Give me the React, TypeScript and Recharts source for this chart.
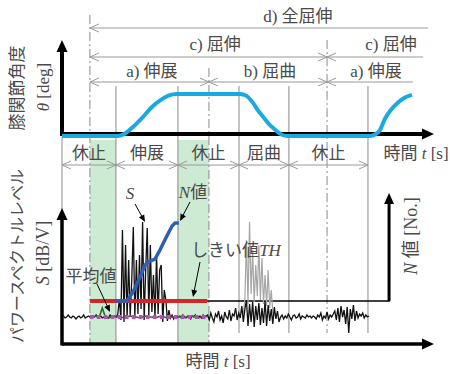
import React from 'react';
import {
  ComposedChart,
  Line,
  XAxis,
  YAxis,
  ReferenceLine,
  ReferenceArea,
  ReferenceDot,
} from 'recharts';

// ---- values ----
// time axis: t = 0 at the origin, arrow tip at 12 s
const phaseEdges = [0, 1.74, 3.74, 5.71, 7.32, 9.87];
const phaseNames = ['休止', '伸展', '休止', '屈曲', '休止'];
const restZones = [
  [0.9, 1.74],
  [3.74, 4.74],
];
const cycleMarks = [0.9, 4.74, 8.55];

const motionLabels = ['d) 全屈伸', 'c) 屈伸', 'c) 屈伸', 'a) 伸展', 'b) 屈曲', 'a) 伸展'];
const motionFrom = [0.9, 0.9, 8.55, 0.9, 4.74, 8.55];
const motionTo = [11.81, 8.55, 11.65, 4.74, 8.55, 11.32];
const motionLabelT = [7.61, 4.94, 10.61, 2.9, 6.71, 10.13];
const motionRow = ['d', 'c', 'c', 'a', 'a', 'a'];
const motionOpenEnd = [true, false, true, false, false, true];

// knee angle [deg]
const angleT = [0, 1.8, 2.0, 2.3, 2.6, 2.9, 3.2, 3.45, 3.7, 5.74, 5.95, 6.15, 6.32, 6.5, 6.7, 6.87, 7.05, 7.26, 9.94, 10.1, 10.25, 10.42, 10.6, 10.84, 11.05, 11.29];
const angleDeg = [0, 0, 4, 20, 40, 62, 78, 87, 90, 90, 86, 72, 55, 40, 24, 14, 4, 0, 0, 3, 12, 37, 55, 72, 82, 88];

// power spectrum level S, sampled every 0.05 s
const sampleDt = 0.05;
const sBlack = [
  27, 28, 26, 27, 29, 27, 26, 28, 27, 25, 27, 28, 26, 27, 29, 26, 27, 28, 27, 26, 28, 27, 29, 26, 27, 28, 26, 27, 28, 27, 26, 29, 27, 26, 28,
  27, 30, 45, 24, 114, 22, 99, 25, 84, 28, 64, 117, 26, 84, 30, 89, 35, 122, 24, 74, 116, 28, 99, 32, 69, 26, 89, 30, 74, 79, 22, 54, 44, 23, 34, 26, 29, 25, 28, 27,
  27, 28, 26, 29, 27, 26, 28, 27, 25, 28, 27, 29, 26, 27, 28, 26, 29, 27, 28,
  29, 24, 31, 26, 22, 30, 27, 33, 24, 28, 21, 32, 27, 25, 34, 23, 30, 28, 36, 24, 31, 26, 38, 22, 35,
  44, 18, 40, 22, 42, 17, 38, 24, 41, 19, 36, 21, 43, 18, 39, 23, 35, 20, 37, 25, 33, 22,
  27, 29, 25, 28, 26, 30, 27, 24, 28, 29, 26, 27, 30, 25, 28, 27, 26, 29, 27, 28,
  26, 28, 27, 25, 29, 27, 31, 24, 28, 26, 32, 25, 29, 27, 30,
  33, 24, 36, 22, 38, 27, 34, 20, 37, 11, 35, 25, 39, 23, 33, 26, 30,
  28, 31, 26, 29, 27, 28,
];
const sGrayStart = 5.85;
const sGray = [30, 45, 104, 40, 122, 50, 94, 42, 79, 48, 99, 44, 86, 40, 69, 38, 74, 36, 54, 32, 28];

const avgStart = 0.9;
const avgDt = 0.1;
const sAvgTrace = [27, 27, 28, 27, 36, 27, 26, 27, 28, 27, 27, 26, 27, 28, 27, 27, 26, 27, 28, 27, 27, 26, 27, 28, 27, 26, 27, 27, 28, 27, 26, 27, 27, 28, 27, 26, 27, 28, 27];
const sMean = 27;
const threshold = 43;
const refSpan = [0.9, 4.68];

// N value [No.]
const nT = [1.74, 2.1, 2.29, 2.52, 2.68, 2.77, 3.0, 3.16, 3.35, 3.55, 3.65, 3.77];
const nCount = [0, 0, 3, 8, 12, 13, 14, 17, 21, 25, 26, 26];
const nAxisT = 10.55;
const nAxisMax = 36;

// ---- layout ----
const W = 450;
const H = 374;
const ORIGIN_PX = 62;
const PX_PER_S = 31;
const T_MIN = -ORIGIN_PX / PX_PER_S;
const T_MAX = (W - ORIGIN_PX) / PX_PER_S;
const ANG0_PX = 136;
const ANG90_PX = 94;
const S0_PX = 344;
const N0_PX = 301;
const N_PX = 3;

// annotation x given in page pixels -> time units
const px = (x: number) => (x - ORIGIN_PX) / PX_PER_S;

const angK = (ANG0_PX - ANG90_PX) / 90;
const angDomain = [-(H - ANG0_PX) / angK, ANG0_PX / angK];
const sDomain = [-(H - S0_PX), S0_PX];
const nDomain = [-(H - N0_PX) / N_PX, N0_PX / N_PX];

const rowY: Record<string, number> = { d: 28, c: 57, a: 82 };
const rowLabelY: Record<string, number> = { d: 16, c: 44, a: 71 };

const FONT = "'Liberation Serif', 'Noto Sans CJK JP', serif";
const INK = '#4a4a4a';
const GRID = '#8a8a8a';
const DIM = '#9a9a9a';

const angleData = angleT.map((t, i) => ({ t, v: angleDeg[i] }));
const blackData = sBlack.map((v, i) => ({ t: +(i * sampleDt).toFixed(2), v }));
const grayData = sGray.map((v, i) => ({ t: +(sGrayStart + i * sampleDt).toFixed(2), v }));
const avgTraceData = sAvgTrace.map((v, i) => ({ t: +(avgStart + i * avgDt).toFixed(2), v }));
const meanData = refSpan.map((t) => ({ t, v: sMean }));
const thData = refSpan.map((t) => ({ t, v: threshold }));
const nData = nT.map((t, i) => ({ t, v: nCount[i] }));

type Head = 'none' | 'open' | 'solid';

const arrowShape =
  (color: string, width: number, start: Head, end: Head, headLen = 12, headHalf = 5) =>
  (p: any) => {
    const { x1, y1, x2, y2 } = p;
    const dx = x2 - x1;
    const dy = y2 - y1;
    const len = Math.hypot(dx, dy) || 1;
    const ux = dx / len;
    const uy = dy / len;
    const nx = -uy;
    const ny = ux;
    const head = (tx: number, ty: number, bx: number, by: number, kind: Head) => {
      const cx = tx + bx * headLen;
      const cy = ty + by * headLen;
      const pts = `${cx + nx * headHalf},${cy + ny * headHalf} ${tx},${ty} ${cx - nx * headHalf},${cy - ny * headHalf}`;
      return kind === 'solid' ? (
        <polygon points={pts} fill={color} />
      ) : (
        <polyline points={pts} fill="none" stroke={color} strokeWidth={1} />
      );
    };
    let sx = x1;
    let sy = y1;
    let ex = x2;
    let ey = y2;
    if (start === 'solid') {
      sx += ux * headLen * 0.8;
      sy += uy * headLen * 0.8;
    }
    if (end === 'solid') {
      ex -= ux * headLen * 0.8;
      ey -= uy * headLen * 0.8;
    }
    return (
      <g>
        <line x1={sx} y1={sy} x2={ex} y2={ey} stroke={color} strokeWidth={width} />
        {start !== 'none' && head(x1, y1, ux, uy, start)}
        {end !== 'none' && head(x2, y2, -ux, -uy, end)}
      </g>
    );
  };

const seg = (key: string, yId: string, a: number[], b: number[], shape: any) => (
  <ReferenceLine
    key={key}
    xAxisId="t"
    yAxisId={yId}
    segment={[
      { x: a[0], y: a[1] },
      { x: b[0], y: b[1] },
    ]}
    ifOverflow="visible"
    shape={shape}
  />
);

const vline = (key: string, t: number, top: number, bottom: number, dash?: string) => (
  <ReferenceLine
    key={key}
    xAxisId="t"
    yAxisId="lay"
    segment={[
      { x: t, y: top },
      { x: t, y: bottom },
    ]}
    ifOverflow="visible"
    stroke={GRID}
    strokeWidth={1}
    strokeDasharray={dash}
  />
);

const label = (key: string, t: number, y: number, content: React.ReactNode, size = 17, rotate = false) => (
  <ReferenceDot
    key={key}
    xAxisId="t"
    yAxisId="lay"
    x={t}
    y={y}
    r={0}
    ifOverflow="visible"
    shape={(p: any) => (
      <text
        x={p.cx}
        y={p.cy}
        textAnchor="middle"
        dominantBaseline="central"
        fontSize={size}
        fontFamily={FONT}
        fill={INK}
        transform={rotate ? `rotate(-90 ${p.cx} ${p.cy})` : undefined}
      >
        {content}
      </text>
    )}
  />
);

const it = (s: string) => <tspan fontStyle="italic">{s}</tspan>;

const dashDotTop = [15, 68, 40];
const dashDotBottom = [344, 344, 333];
const callout = arrowShape('#000', 1, 'none', 'solid', 7, 3);

export default function App() {
  return (
    <div style={{ position: 'absolute', left: 0, top: 0, width: W, height: H, background: '#fff' }}>
      <ComposedChart width={W} height={H} margin={{ top: 0, right: 0, bottom: 0, left: 0 }}>
        <XAxis xAxisId="t" type="number" dataKey="t" domain={[T_MIN, T_MAX]} allowDataOverflow hide />
        <YAxis yAxisId="lay" type="number" domain={[0, H]} reversed allowDataOverflow hide />
        <YAxis yAxisId="ang" type="number" domain={angDomain} allowDataOverflow hide />
        <YAxis yAxisId="s" type="number" domain={sDomain} allowDataOverflow hide />
        <YAxis yAxisId="n" type="number" domain={nDomain} allowDataOverflow hide />

        {restZones.map(([a, b], i) => (
          <ReferenceArea
            key={`rest${i}`}
            xAxisId="t"
            yAxisId="lay"
            x1={a}
            x2={b}
            y1={140}
            y2={S0_PX}
            ifOverflow="visible"
            fill="#cdead3"
            fillOpacity={1}
            stroke="none"
          />
        ))}

        {cycleMarks.map((t, i) => vline(`cyc${i}`, t, dashDotTop[i], dashDotBottom[i], '9 3 2 3'))}
        {phaseEdges.slice(1).map((t, i) => vline(`ph${i}`, t, 86, i < 2 ? 344 : 333))}
        {vline('origin', 0, 137, 210)}

        {/* motion ranges */}
        {motionLabels.map((_, i) =>
          seg(
            `mot${i}`,
            'lay',
            [motionFrom[i], rowY[motionRow[i]]],
            [motionTo[i], rowY[motionRow[i]]],
            arrowShape(DIM, 1.2, 'open', motionOpenEnd[i] ? 'none' : 'open', 9, 4),
          ),
        )}
        {motionLabels.map((m, i) => label(`motl${i}`, motionLabelT[i], rowLabelY[motionRow[i]], m))}

        {/* phases */}
        {phaseNames.map((_, i) =>
          seg(`phs${i}`, 'lay', [phaseEdges[i], 165], [phaseEdges[i + 1], 165], arrowShape(DIM, 1.2, 'open', 'open', 9, 4)),
        )}
        {phaseNames.map((p, i) => label(`phl${i}`, (phaseEdges[i] + phaseEdges[i + 1]) / 2, 153, p))}

        {/* axes */}
        {seg('topX', 'lay', [0, 134], [12, 134], arrowShape('#000', 4, 'none', 'solid', 12, 5.5))}
        {seg('topY', 'lay', [0, 136], [0, 40], arrowShape('#000', 4, 'none', 'solid', 12, 5.5))}
        {seg('botX', 's', [0, 0], [12, 0], arrowShape('#000', 3.5, 'none', 'solid', 12, 5.5))}
        {seg('botY', 's', [0, -1.5], [0, 136], arrowShape('#000', 3.5, 'none', 'solid', 12, 5.5))}
        {seg('nY', 'n', [nAxisT, 0], [nAxisT, nAxisMax], arrowShape('#000', 3, 'none', 'solid', 11, 5))}
        {seg('nX', 'n', [refSpan[1], 0], [nAxisT + 0.03, 0], arrowShape('#000', 1.3, 'none', 'none'))}

        <Line xAxisId="t" yAxisId="s" data={grayData} dataKey="v" type="linear" stroke="#a6a6a6" strokeWidth={1.2} dot={false} activeDot={false} isAnimationActive={false} />
        <Line xAxisId="t" yAxisId="s" data={blackData} dataKey="v" type="linear" stroke="#111" strokeWidth={1.3} dot={false} activeDot={false} isAnimationActive={false} />
        <Line xAxisId="t" yAxisId="s" data={avgTraceData} dataKey="v" type="linear" stroke="#2e6a2e" strokeWidth={1.6} dot={false} activeDot={false} isAnimationActive={false} />
        <Line xAxisId="t" yAxisId="s" data={meanData} dataKey="v" type="linear" stroke="#c048c0" strokeWidth={4} strokeDasharray="3.5 3.5" dot={false} activeDot={false} isAnimationActive={false} />
        <Line xAxisId="t" yAxisId="s" data={thData} dataKey="v" type="linear" stroke="#d42626" strokeWidth={4} dot={false} activeDot={false} isAnimationActive={false} />
        <Line xAxisId="t" yAxisId="n" data={nData} dataKey="v" type="linear" stroke="#2f5db6" strokeWidth={3.5} dot={false} activeDot={false} isAnimationActive={false} />
        <Line xAxisId="t" yAxisId="ang" data={angleData} dataKey="v" type="monotone" stroke="#1aaae2" strokeWidth={4} dot={false} activeDot={false} isAnimationActive={false} />

        {/* callout arrows */}
        {seg('aS', 'lay', [px(135), 204], [px(145), 222], callout)}
        {seg('aN', 'lay', [px(190), 202], [px(180), 221], callout)}
        {seg('aTH', 'lay', [px(200), 262], [px(193), 297], callout)}
        {seg('aM', 'lay', [px(97), 284], [px(110), 312], callout)}

        {/* texts */}
        {label('yl1', px(17), 88, '膝関節角度', 17, true)}
        {label('yl2', px(43), 87, <>{it('θ')} [deg]</>, 17, true)}
        {label('yl3', px(17), 256, 'パワースペクトルレベル', 16, true)}
        {label('yl4', px(43), 253, <>{it('S')} [dB/V]</>, 18, true)}
        {label('yl5', px(411), 236, <>{it('N')} 値 [No.]</>, 18, true)}
        {label('xl1', px(416), 153, <>時間 {it('t')} [s]</>, 17)}
        {label('xl2', px(218), 361, <>時間 {it('t')} [s]</>, 17)}
        {label('lS', px(130), 193, it('S'), 17)}
        {label('lN', px(193), 192, <>{it('N')}値</>, 17)}
        {label('lM', px(91), 276, '平均値', 17)}
        {label('lTH', px(236), 250, <>しきい値{it('TH')}</>, 17)}
      </ComposedChart>
    </div>
  );
}
